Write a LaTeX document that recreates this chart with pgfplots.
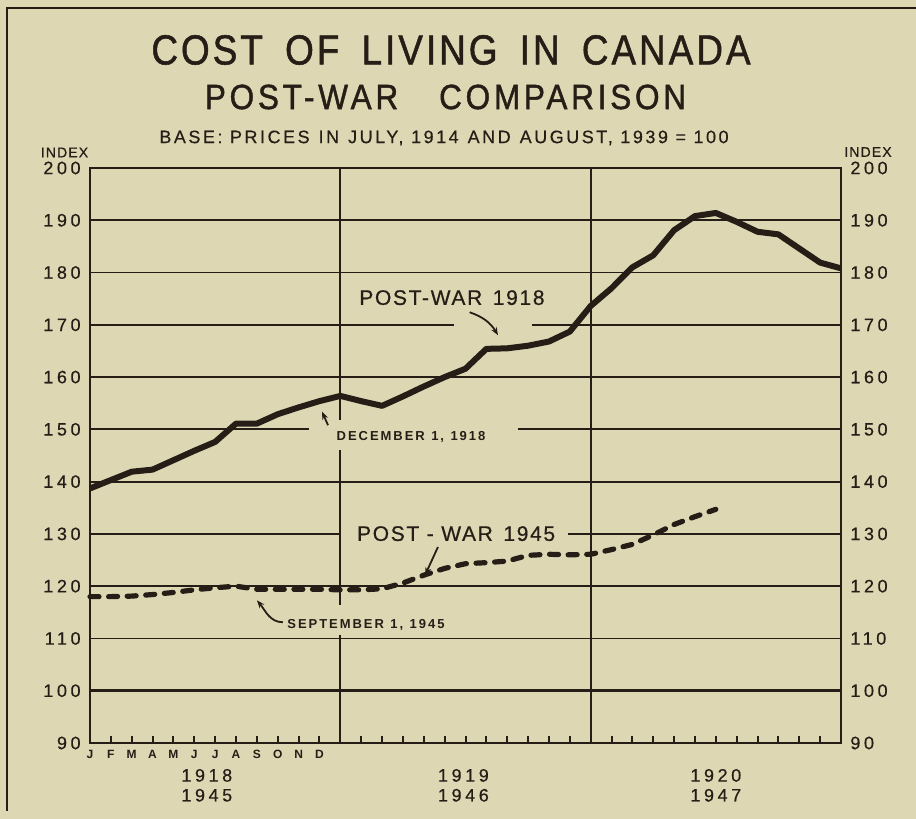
\documentclass[border=0pt]{standalone}
\usepackage{fontspec}
\setmainfont{Liberation Sans}
\usepackage{pgfplots}
\pgfplotsset{compat=1.18}
\usetikzlibrary{arrows.meta}
\definecolor{bg}{RGB}{222,215,180}
\definecolor{ink}{RGB}{38,30,22}
\newfontfamily\titlefont[LetterSpace=8,FakeBold=1.3]{Liberation Sans}
\newfontfamily\titlefontb[LetterSpace=12,FakeBold=1.3]{Liberation Sans}
\newfontfamily\subfont[LetterSpace=14,FakeBold=0.5]{Liberation Sans}
\newfontfamily\tickfont[LetterSpace=20,FakeBold=0.5]{Liberation Sans}
\newfontfamily\labfont[LetterSpace=8,FakeBold=0.6]{Liberation Sans}
\newfontfamily\smallfont[LetterSpace=15]{Liberation Sans}
\tikzset{gridl/.style={ink, line width=0.9pt},
         arr/.style={ink, line width=0.9pt, -{Stealth[length=4pt,width=3pt]}}}
\newcommand{\wsp}{\hspace{0.5em}}
\begin{document}
\begin{tikzpicture}
\fill[bg] (0pt,0pt) rectangle (458pt,409.5pt);
\useasboundingbox (0pt,0pt) rectangle (458pt,409.5pt);
\draw[ink, line width=1.4pt] (3.5pt,4pt) -- (3.5pt,405.5pt) -- (458pt,405.5pt);
\node[text=ink, font=\titlefont\fontsize{21}{24}\selectfont, inner sep=0pt] at (225.5pt,384.5pt) {\scalebox{0.88}[1]{COST\hspace{0.6em}OF\hspace{0.6em}LIVING\hspace{0.6em}IN\hspace{0.6em}CANADA}};
\node[text=ink, font=\titlefontb\fontsize{17.5}{20}\selectfont, inner sep=0pt] at (222.75pt,361pt) {\scalebox{0.9}[1]{POST-WAR\hspace{1.3em}COMPARISON}};
\node[text=ink, font=\subfont\fontsize{9}{10}\selectfont, inner sep=0pt] at (222pt,340.5pt) {BASE: PRICES\wsp IN\wsp JULY, 1914\wsp AND\wsp AUGUST, 1939 = 100};
\node[text=ink, font=\labfont\fontsize{7}{8}\selectfont, inner sep=0pt] at (32.25pt,333.25pt) {INDEX};
\node[text=ink, font=\labfont\fontsize{7}{8}\selectfont, inner sep=0pt] at (434pt,333.5pt) {INDEX};

\begin{axis}[
  at={(45pt,38pt)}, anchor=south west,
  scale only axis, width=375.5pt, height=287.5pt,
  xmin=0, xmax=36, ymin=90, ymax=200,
  clip=false,
  axis line style={ink, line width=1.4pt},
  xtick={0,1,2,3,4,5,6,7,8,9,10,11},
  xticklabels={J,F,M,A,M,J,J,A,S,O,N,D},
  minor xtick={1,2,3,4,5,6,7,8,9,10,11,13,14,15,16,17,18,19,20,21,22,23,25,26,27,28,29,30,31,32,33,34,35},
  xtick pos=left, ytick pos=left,
  tick align=inside,
  major tick length=0pt,
  minor tick length=3.5pt,
  minor tick style={ink, line width=1pt},
  xticklabel style={font=\smallfont\bfseries\fontsize{6}{7}\selectfont, text=ink, anchor=north, yshift=-3.3pt, inner sep=0pt},
  ytick={90,100,110,120,130,140,150,160,170,180,190,200},
  yticklabel style={font=\tickfont\fontsize{9}{10}\selectfont, text=ink, anchor=east, inner sep=0pt, xshift=-4.5pt, /pgf/number format/assume math mode=true},
]
% horizontal grid
\draw[gridl] (axis cs:0,110) -- (axis cs:36,110);
\draw[gridl] (axis cs:0,120) -- (axis cs:36,120);
\draw[gridl] (axis cs:0,140) -- (axis cs:36,140);
\draw[gridl] (axis cs:0,160) -- (axis cs:36,160);
\draw[gridl] (axis cs:0,180) -- (axis cs:36,180);
\draw[gridl] (axis cs:0,190) -- (axis cs:36,190);
\draw[ink, line width=1.3pt] (axis cs:0,100) -- (axis cs:36,100);
\draw[gridl] (axis cs:0,170) -- (axis cs:17.45,170);
\draw[gridl] (axis cs:21.19,170) -- (axis cs:36,170);
\draw[gridl] (axis cs:0,150) -- (axis cs:10.5,150);
\draw[gridl] (axis cs:20.5,150) -- (axis cs:36,150);
\draw[gridl] (axis cs:0,130) -- (axis cs:12,130);
\draw[gridl] (axis cs:22.9,130) -- (axis cs:36,130);
% vertical year lines
\draw[gridl] (axis cs:12,90) -- (axis cs:12,110.6);
\draw[gridl] (axis cs:12,116.4) -- (axis cs:12,146.0);
\draw[gridl] (axis cs:12,151.8) -- (axis cs:12,200);
\draw[gridl] (axis cs:24,90) -- (axis cs:24,200);

% Post-war 1918
\addplot[ink, line width=3pt, line join=round, line cap=butt] coordinates {
(0,138.7) (1,140.3) (2,141.9) (3,142.3) (4,144.1) (5,145.9) (6,147.6) (7,151.1)
(8,151.1) (9,152.9) (10,154.2) (11,155.4) (12,156.4) (13,155.4) (14,154.5)
(15,156.3) (16,158.2) (17,160.0) (18,161.6) (19,165.4) (20,165.5) (21,166.0)
(22,166.8) (23,168.7) (24,173.6) (25,177.0) (26,181.0) (27,183.3) (28,188.1)
(29,190.8) (30,191.4) (31,189.7) (32,187.8) (33,187.3) (34,184.6) (35,181.9)
(36,180.8)};
% Post-war 1945
\addplot[ink, line width=2.6pt, line join=round, line cap=round, dash pattern=on 4.5pt off 4.8pt] coordinates {
(0,118.0) (1,118.0) (2,118.1) (3,118.4) (4,118.8) (5,119.3) (6,119.7) (7,120.0)
(8,119.4) (9,119.4) (10,119.4) (11,119.4) (12,119.3) (13,119.3) (14,119.5)
(15,120.6) (16,122.1) (17,123.4) (18,124.3) (19,124.5) (20,124.8) (21,125.9)
(22,126.1) (23,126.0) (24,126.1) (25,127.0) (26,128.0) (27,129.8) (28,131.8)
(29,133.3) (30,134.7)};

% annotations
\node[text=ink, font=\labfont\fontsize{10.5}{12}\selectfont, inner sep=0pt] at (axis cs:17.35,175.2) {POST-WAR\wsp 1918};
\draw[arr] (axis cs:18.2,172.4) to[bend left=20] (axis cs:19.56,168.0);
\node[text=ink, font=\smallfont\bfseries\fontsize{6.5}{7}\selectfont, inner sep=0pt] at (axis cs:15.39,148.5) {DECEMBER\wsp 1,\wsp 1918};
\draw[arr] (axis cs:11.41,150.8) -- (axis cs:11.12,153.4);
\node[text=ink, font=\labfont\fontsize{10.5}{12}\selectfont, inner sep=0pt] at (axis cs:17.55,130.05) {POST - WAR\wsp 1945};
\draw[arr] (axis cs:16.68,127.5) -- (axis cs:16.06,122.1);
\node[text=ink, font=\smallfont\bfseries\fontsize{6.5}{7}\selectfont, inner sep=0pt] at (axis cs:13.23,112.5) {SEPTEMBER\wsp 1,\wsp 1945};
\draw[arr] (axis cs:9.25,113.1) to[out=180,in=-50] (axis cs:8.0,117.3);

% year labels
\node[text=ink, font=\tickfont\fontsize{9}{10}\selectfont, inner sep=0pt] at (axis cs:5.6,83.8) {1918};
\node[text=ink, font=\tickfont\fontsize{9}{10}\selectfont, inner sep=0pt] at (axis cs:5.6,80.0) {1945};
\node[text=ink, font=\tickfont\fontsize{9}{10}\selectfont, inner sep=0pt] at (axis cs:17.9,83.8) {1919};
\node[text=ink, font=\tickfont\fontsize{9}{10}\selectfont, inner sep=0pt] at (axis cs:17.9,80.0) {1946};
\node[text=ink, font=\tickfont\fontsize{9}{10}\selectfont, inner sep=0pt] at (axis cs:30.0,83.8) {1920};
\node[text=ink, font=\tickfont\fontsize{9}{10}\selectfont, inner sep=0pt] at (axis cs:30.0,80.0) {1947};
\end{axis}

\begin{axis}[
  at={(45pt,38pt)}, anchor=south west,
  scale only axis, width=375.5pt, height=287.5pt,
  xmin=0, xmax=36, ymin=90, ymax=200,
  axis line style={draw=none},
  xtick=\empty,
  ytick={90,100,110,120,130,140,150,160,170,180,190,200},
  major tick length=0pt,
  yticklabel pos=right,
  yticklabel style={font=\tickfont\fontsize{9}{10}\selectfont, text=ink, anchor=west, inner sep=0pt, xshift=4.5pt, /pgf/number format/assume math mode=true},
]
\addplot[draw=none] coordinates {(0,90)};
\end{axis}
\end{tikzpicture}
\end{document}
